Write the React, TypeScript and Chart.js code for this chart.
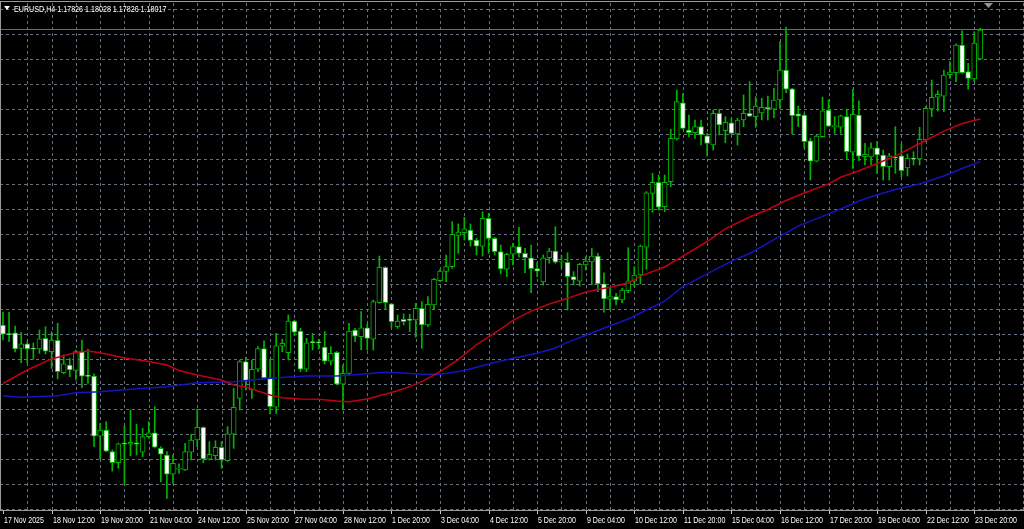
import React, { useEffect, useRef } from 'react';
import { Chart, registerables } from 'chart.js';

Chart.register(...registerables);

// ---------- data ----------
const symbolTitle = 'EURUSD,H4';
const titleValues = ['1.17826', '1.18028', '1.17826', '1.18017'];
const lastPrice = 1.18017;

// time-axis labels, one every 8 bars (H4 bars, starting at bar 0)
const timeLabels = [
  '17 Nov 2025', '18 Nov 12:00', '19 Nov 20:00', '21 Nov 04:00', '24 Nov 12:00',
  '25 Nov 20:00', '27 Nov 04:00', '28 Nov 12:00', '1 Dec 20:00', '3 Dec 04:00',
  '4 Dec 12:00', '5 Dec 20:00', '9 Dec 04:00', '10 Dec 12:00', '11 Dec 20:00',
  '15 Dec 04:00', '16 Dec 12:00', '17 Dec 20:00', '19 Dec 04:00', '22 Dec 12:00',
  '23 Dec 20:00',
];
const labelBarStep = 8;
const gridBarStep = 4;

// price grid levels (top level and step)
const priceGridStart = 1.18154;
const priceGridStep = 0.00165;

const opens = [
  1.16070, 1.16011, 1.16019, 1.15916, 1.15945, 1.15912, 1.15912, 1.15982, 1.15894, 1.15969,
  1.15755, 1.15806, 1.15771, 1.15894, 1.15733, 1.15733, 1.15337, 1.15377, 1.15234, 1.15161,
  1.15285, 1.15283, 1.15293, 1.15230, 1.15333, 1.15359, 1.15256, 1.15212, 1.15085, 1.15118,
  1.15113, 1.15230, 1.15311, 1.15395, 1.15184, 1.15207, 1.15263, 1.15174, 1.15349, 1.15586,
  1.15828, 1.15641, 1.15778, 1.15914, 1.15722, 1.15527, 1.15931, 1.15887, 1.16096, 1.16030,
  1.15778, 1.15956, 1.15956, 1.15925, 1.15832, 1.15890, 1.15679, 1.15751, 1.16037, 1.15993,
  1.16052, 1.15976, 1.16217, 1.16451, 1.16209, 1.16059, 1.16108, 1.16103, 1.16103, 1.16180,
  1.16070, 1.16202, 1.16362, 1.16424, 1.16455, 1.16662, 1.16679, 1.16697, 1.16631, 1.16591,
  1.16774, 1.16642, 1.16554, 1.16438, 1.16537, 1.16587, 1.16543, 1.16514, 1.16442, 1.16354,
  1.16514, 1.16558, 1.16484, 1.16484, 1.16389, 1.16360, 1.16466, 1.16486, 1.16525, 1.16341,
  1.16240, 1.16257, 1.16235, 1.16296, 1.16360, 1.16400, 1.16583, 1.16939, 1.17012, 1.16851,
  1.17016, 1.17298, 1.17537, 1.17357, 1.17339, 1.17379, 1.17319, 1.17258, 1.17467, 1.17352,
  1.17405, 1.17331, 1.17423, 1.17467, 1.17445, 1.17469, 1.17507, 1.17494, 1.17555, 1.17753,
  1.17628, 1.17463, 1.17456, 1.17286, 1.17152, 1.17313, 1.17489, 1.17379, 1.17375, 1.17445,
  1.17210, 1.17456, 1.17181, 1.17179, 1.17240, 1.17192, 1.17115, 1.17179, 1.17187, 1.17106,
  1.17166, 1.17166, 1.17291, 1.17496, 1.17573, 1.17581, 1.17722, 1.17735, 1.17918, 1.17742,
  1.17694, 1.17826,
];
const highs = [
  1.16156, 1.16154, 1.16063, 1.16022, 1.15960, 1.15951, 1.16037, 1.16059, 1.16026, 1.16081,
  1.15872, 1.15850, 1.15905, 1.15971, 1.15910, 1.15747, 1.15421, 1.15432, 1.15245, 1.15291,
  1.15403, 1.15509, 1.15415, 1.15388, 1.15432, 1.15531, 1.15267, 1.15234, 1.15212, 1.15153,
  1.15289, 1.15349, 1.15514, 1.15399, 1.15300, 1.15306, 1.15300, 1.15399, 1.15652, 1.15839,
  1.15857, 1.15839, 1.15927, 1.15966, 1.15844, 1.16015, 1.15976, 1.16136, 1.16103, 1.16048,
  1.15982, 1.16015, 1.15976, 1.16026, 1.15927, 1.15894, 1.15806, 1.16081, 1.16048, 1.16158,
  1.16077, 1.16235, 1.16525, 1.16455, 1.16213, 1.16136, 1.16143, 1.16141, 1.16213, 1.16224,
  1.16257, 1.16378, 1.16438, 1.16532, 1.16752, 1.16737, 1.16781, 1.16737, 1.16642, 1.16818,
  1.16807, 1.16649, 1.16598, 1.16543, 1.16609, 1.16715, 1.16576, 1.16598, 1.16484, 1.16532,
  1.16576, 1.16719, 1.16532, 1.16547, 1.16422, 1.16477, 1.16521, 1.16576, 1.16543, 1.16415,
  1.16312, 1.16279, 1.16312, 1.16580, 1.16455, 1.16598, 1.16950, 1.17071, 1.17060, 1.17060,
  1.17362, 1.17621, 1.17595, 1.17456, 1.17423, 1.17423, 1.17335, 1.17489, 1.17494, 1.17445,
  1.17434, 1.17434, 1.17588, 1.17676, 1.17577, 1.17566, 1.17581, 1.17632, 1.17940, 1.18037,
  1.17632, 1.17515, 1.17467, 1.17302, 1.17324, 1.17573, 1.17555, 1.17445, 1.17456, 1.17494,
  1.17626, 1.17550, 1.17269, 1.17273, 1.17280, 1.17225, 1.17203, 1.17379, 1.17264, 1.17199,
  1.17214, 1.17375, 1.17511, 1.17687, 1.17616, 1.17753, 1.17808, 1.17925, 1.18012, 1.17797,
  1.18006, 1.18028,
];
const lows = [
  1.15971, 1.15960, 1.15892, 1.15821, 1.15819, 1.15844, 1.15883, 1.15879, 1.15784, 1.15714,
  1.15747, 1.15729, 1.15707, 1.15656, 1.15685, 1.15267, 1.15184, 1.15234, 1.15106, 1.15124,
  1.15014, 1.15207, 1.15212, 1.15201, 1.15322, 1.15258, 1.15036, 1.14926, 1.15025, 1.15091,
  1.15110, 1.15179, 1.15267, 1.15161, 1.15179, 1.15179, 1.15124, 1.15169, 1.15256, 1.15509,
  1.15641, 1.15586, 1.15762, 1.15714, 1.15483, 1.15487, 1.15894, 1.15839, 1.15999, 1.15762,
  1.15762, 1.15905, 1.15910, 1.15813, 1.15806, 1.15674, 1.15509, 1.15740, 1.15960, 1.15905,
  1.15905, 1.15905, 1.16213, 1.16174, 1.16055, 1.16048, 1.16070, 1.16026, 1.15989, 1.15916,
  1.16059, 1.16174, 1.16356, 1.16356, 1.16444, 1.16543, 1.16631, 1.16591, 1.16532, 1.16525,
  1.16543, 1.16532, 1.16407, 1.16389, 1.16466, 1.16517, 1.16415, 1.16283, 1.16389, 1.16334,
  1.16477, 1.16477, 1.16444, 1.16169, 1.16334, 1.16327, 1.16433, 1.16334, 1.16290, 1.16154,
  1.16169, 1.16202, 1.16217, 1.16283, 1.16323, 1.16341, 1.16438, 1.16814, 1.16829, 1.16818,
  1.16983, 1.17291, 1.17362, 1.17313, 1.17302, 1.17258, 1.17185, 1.17225, 1.17324, 1.17273,
  1.17324, 1.17258, 1.17379, 1.17445, 1.17375, 1.17423, 1.17423, 1.17438, 1.17500, 1.17603,
  1.17331, 1.17379, 1.17236, 1.17027, 1.17148, 1.17309, 1.17379, 1.17335, 1.17335, 1.17164,
  1.17104, 1.17154, 1.17126, 1.17126, 1.17071, 1.17027, 1.17027, 1.17071, 1.17049, 1.17053,
  1.17126, 1.17126, 1.17280, 1.17445, 1.17482, 1.17478, 1.17698, 1.17676, 1.17730, 1.17626,
  1.17676, 1.17826,
];
const closes = [
  1.16009, 1.16007, 1.15912, 1.15945, 1.15912, 1.15910, 1.15978, 1.15898, 1.15971, 1.15762,
  1.15813, 1.15773, 1.15894, 1.15733, 1.15731, 1.15337, 1.15377, 1.15238, 1.15161, 1.15285,
  1.15283, 1.15296, 1.15283, 1.15333, 1.15359, 1.15263, 1.15217, 1.15085, 1.15157, 1.15120,
  1.15234, 1.15311, 1.15395, 1.15186, 1.15217, 1.15263, 1.15179, 1.15351, 1.15527, 1.15828,
  1.15700, 1.15778, 1.15914, 1.15722, 1.15531, 1.15933, 1.15949, 1.16096, 1.16022, 1.15778,
  1.15953, 1.15954, 1.15953, 1.15832, 1.15883, 1.15679, 1.15751, 1.16030, 1.15997, 1.16052,
  1.15982, 1.16224, 1.16451, 1.16217, 1.16092, 1.16096, 1.16092, 1.16101, 1.16180, 1.16070,
  1.16207, 1.16372, 1.16426, 1.16455, 1.16669, 1.16684, 1.16704, 1.16629, 1.16591, 1.16774,
  1.16642, 1.16554, 1.16440, 1.16537, 1.16587, 1.16543, 1.16514, 1.16442, 1.16426, 1.16514,
  1.16558, 1.16484, 1.16486, 1.16389, 1.16367, 1.16471, 1.16492, 1.16525, 1.16341, 1.16242,
  1.16257, 1.16235, 1.16301, 1.16362, 1.16400, 1.16591, 1.16943, 1.17012, 1.16847, 1.17012,
  1.17302, 1.17544, 1.17368, 1.17339, 1.17379, 1.17324, 1.17269, 1.17467, 1.17390, 1.17408,
  1.17335, 1.17423, 1.17467, 1.17449, 1.17515, 1.17507, 1.17494, 1.17555, 1.17753, 1.17626,
  1.17451, 1.17449, 1.17280, 1.17152, 1.17317, 1.17484, 1.17383, 1.17380, 1.17451, 1.17214,
  1.17461, 1.17185, 1.17197, 1.17240, 1.17192, 1.17115, 1.17187, 1.17172, 1.17088, 1.17170,
  1.17164, 1.17296, 1.17500, 1.17573, 1.17593, 1.17720, 1.17740, 1.17918, 1.17735, 1.17698,
  1.17931, 1.18017,
];

// fast moving average (red), sampled at bar indices
const redMaBars = [
  0, 4, 8, 12, 14, 16, 20, 24, 27, 29, 32, 36, 38, 40, 42, 44, 46, 49, 52, 55,
  57, 60, 62, 65, 67, 69, 72, 75, 78, 81, 84, 87, 90, 93, 96, 98, 100, 103, 105, 109,
  112, 116, 119, 123, 126, 129, 132, 136, 138, 141, 144, 147, 151, 155, 158, 161,
];
const redMaValues = [
  1.15684, 1.15773, 1.15846, 1.15889, 1.15898, 1.15887, 1.15852, 1.15829, 1.15806, 1.15770,
  1.15740, 1.15707, 1.15674, 1.15661, 1.15634, 1.15608, 1.15590, 1.15582, 1.15580, 1.15568,
  1.15564, 1.15582, 1.15603, 1.15636, 1.15663, 1.15696, 1.15762, 1.15842, 1.15941, 1.16017,
  1.16100, 1.16162, 1.16209, 1.16246, 1.16288, 1.16304, 1.16319, 1.16347, 1.16393, 1.16453,
  1.16525, 1.16621, 1.16704, 1.16783, 1.16832, 1.16892, 1.16941, 1.17001, 1.17045, 1.17088,
  1.17136, 1.17185, 1.17268, 1.17350, 1.17400, 1.17430,
];
// slow moving average (blue), sampled at bar indices
const blueMaBars = [
  0, 3, 5, 9, 12, 16, 21, 27, 32, 38, 44, 50, 55, 59, 63, 66, 69, 72, 76, 81,
  84, 88, 91, 93, 96, 98, 103, 109, 112, 116, 120, 123, 127, 131, 135, 139, 141, 144, 147, 151,
  155, 158, 161,
];
const blueMaValues = [
  1.15603, 1.15593, 1.15597, 1.15603, 1.15623, 1.15630, 1.15646, 1.15663, 1.15689, 1.15696,
  1.15718, 1.15733, 1.15733, 1.15745, 1.15758, 1.15753, 1.15745, 1.15745, 1.15770, 1.15823,
  1.15850, 1.15883, 1.15918, 1.15955, 1.16002, 1.16034, 1.16110, 1.16228, 1.16324, 1.16407,
  1.16492, 1.16542, 1.16634, 1.16723, 1.16787, 1.16852, 1.16888, 1.16930, 1.16964, 1.17001,
  1.17053, 1.17103, 1.17148,
];

// ---------- styles ----------
const BG = '#000000';
const CANDLE_GREEN = '#00b400';
const BULL_FILL = '#000000';
const BEAR_FILL = '#ffffff';
const GRID_COLOR = '#66727f';
const RED_MA = '#c00014';
const BLUE_MA = '#1414c0';
const PRICE_LINE = '#d23c50';
const FRAME = '#9a9a9a';
const TEXT = '#ffffff';

const mtPlugin = {
  id: 'mtFrame',
  beforeDatasetsDraw(chart: any) {
    const { ctx, chartArea: a, scales } = chart;
    const xs = scales.x;
    const ys = scales.y;
    ctx.save();
    ctx.strokeStyle = GRID_COLOR;
    ctx.lineWidth = 1;
    ctx.setLineDash([3, 3]);
    ctx.beginPath();
    for (let i = gridBarStep; i <= xs.max; i += gridBarStep) {
      const px = Math.round(xs.getPixelForValue(i)) + 0.5;
      ctx.moveTo(px, a.top + 3);
      ctx.lineTo(px, a.bottom);
    }
    for (let k = 0; k < 100; k++) {
      const v = priceGridStart - k * priceGridStep;
      if (v <= ys.min) break;
      const py = Math.round(ys.getPixelForValue(v)) + 0.5;
      ctx.moveTo(a.left, py);
      ctx.lineTo(a.right, py);
    }
    ctx.stroke();
    ctx.restore();
  },
  afterDatasetsDraw(chart: any) {
    const { ctx, chartArea: a, scales } = chart;
    const py = Math.round(scales.y.getPixelForValue(lastPrice)) - 0.5;
    ctx.save();
    ctx.strokeStyle = PRICE_LINE;
    ctx.lineWidth = 1;
    ctx.beginPath();
    ctx.moveTo(a.left, py);
    ctx.lineTo(a.right, py);
    ctx.stroke();
    ctx.restore();
  },
  afterDraw(chart: any) {
    const { ctx, chartArea: a, scales } = chart;
    const xs = scales.x;
    ctx.save();
    // frame
    ctx.strokeStyle = FRAME;
    ctx.lineWidth = 1;
    ctx.beginPath();
    ctx.moveTo(0, 1.5);
    ctx.lineTo(a.right, 1.5);
    ctx.moveTo(0.5, 1.5);
    ctx.lineTo(0.5, a.bottom + 1);
    ctx.moveTo(0, a.bottom + 0.5);
    ctx.lineTo(a.right, a.bottom + 0.5);
    ctx.stroke();
    // time labels
    ctx.fillStyle = TEXT;
    ctx.strokeStyle = '#c8c8c8';
    ctx.font = '9.5px "Liberation Sans", Arial, sans-serif';
    ctx.textBaseline = 'alphabetic';
    ctx.textAlign = 'left';
    timeLabels.forEach((lab, k) => {
      const px = Math.round(xs.getPixelForValue(k * labelBarStep)) + 0.5;
      ctx.beginPath();
      ctx.moveTo(px, a.bottom + 1);
      ctx.lineTo(px, a.bottom + 4);
      ctx.stroke();
      const w = ctx.measureText(lab).width * 0.74;
      ctx.fillText(lab, px + 0.5, a.bottom + 12.5, w);
    });
    // title
    ctx.font = '8.5px "Liberation Sans", Arial, sans-serif';
    ctx.beginPath();
    ctx.moveTo(4, 6);
    ctx.lineTo(10, 6);
    ctx.lineTo(7, 10);
    ctx.closePath();
    ctx.fill();
    const title = symbolTitle + ' ' + titleValues.join(' ');
    const tw = ctx.measureText(title).width * 0.84;
    ctx.fillText(title, 14, 12, tw);
    // shift marker
    ctx.fillStyle = '#8896a4';
    ctx.beginPath();
    ctx.moveTo(984, 3);
    ctx.lineTo(993, 3);
    ctx.lineTo(988.5, 8);
    ctx.closePath();
    ctx.fill();
    ctx.restore();
  },
};

export default function App() {
  const ref = useRef<HTMLCanvasElement | null>(null);

  useEffect(() => {
    document.body.style.margin = '0';
    document.body.style.background = BG;
    const canvas = ref.current;
    if (!canvas) return;

    const wicks = opens.map((_, i) => ({ x: i, y: [lows[i], highs[i]] }));
    const bodies = opens.map((o, i) => ({ x: i, y: [o, closes[i]] }));
    const bodyFill = opens.map((o, i) => (closes[i] >= o ? BULL_FILL : BEAR_FILL));
    const redMa = redMaBars.map((b, i) => ({ x: b, y: redMaValues[i] }));
    const blueMa = blueMaBars.map((b, i) => ({ x: b, y: blueMaValues[i] }));

    const chart = new Chart(canvas, {
      type: 'bar',
      data: {
        datasets: [
          {
            type: 'line',
            data: redMa as any,
            borderColor: RED_MA,
            borderWidth: 1.5,
            pointRadius: 0,
            tension: 0,
            order: 0,
          } as any,
          {
            type: 'line',
            data: blueMa as any,
            borderColor: BLUE_MA,
            borderWidth: 1.5,
            pointRadius: 0,
            tension: 0,
            order: 0,
          } as any,
          {
            type: 'bar',
            data: bodies as any,
            backgroundColor: bodyFill,
            borderColor: CANDLE_GREEN,
            borderWidth: 1,
            borderSkipped: false,
            barThickness: 5,
            minBarLength: 1,
            grouped: false,
            order: 1,
          } as any,
          {
            type: 'bar',
            data: wicks as any,
            backgroundColor: CANDLE_GREEN,
            borderWidth: 0,
            barThickness: 1,
            grouped: false,
            order: 2,
          } as any,
        ],
      },
      options: {
        animation: false,
        responsive: false,
        devicePixelRatio: 1,
        layout: { padding: { left: 0, right: 0, top: 0, bottom: 19 } },
        plugins: { legend: { display: false }, tooltip: { enabled: false } },
        scales: {
          x: { type: 'linear', offset: false, min: -0.494, max: 168.2, display: false },
          y: { type: 'linear', min: 1.14849, max: 1.18215, display: false },
        },
      } as any,
      plugins: [mtPlugin as any],
    });
    return () => chart.destroy();
  }, []);

  return (
    <div style={{ position: 'fixed', left: 0, top: 0, width: 1024, height: 529, background: BG }}>
      <canvas ref={ref} width={1024} height={529} style={{ display: 'block' }} />
    </div>
  );
}
